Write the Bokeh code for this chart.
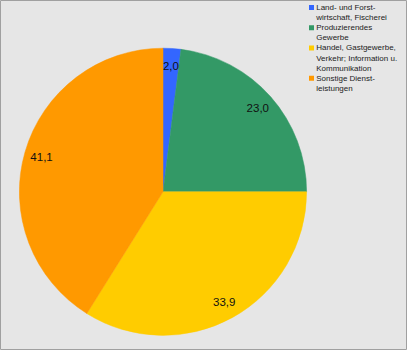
import math
from bokeh.plotting import figure
from bokeh.models import Range1d, ColumnDataSource
from bokeh.core.properties import value
from bokeh.embed import file_html
from bokeh.resources import INLINE

# ---- data ----
categories = [
    ["Land- und Forst-", "wirtschaft, Fischerei"],
    ["Produzierendes", "Gewerbe"],
    ["Handel, Gastgewerbe,", "Verkehr; Information u.", "Kommunikation"],
    ["Sonstige Dienst-", "leistungen"],
]
values = [2.0, 23.0, 33.9, 41.1]
colors = ["#3366ff", "#339966", "#ffcc00", "#ff9900"]

# ---- layout ----
W, H = 406, 349
cx, cy_px, R = 162.5, 191.3, 143.6
cy = H - cy_px
FONT = "Liberation Sans"

p = figure(width=408, height=351, output_backend="svg", toolbar_location=None,
           x_range=Range1d(0, W), y_range=Range1d(0, H),
           min_border_left=0, min_border_top=0, min_border_right=2, min_border_bottom=2)
p.axis.visible = False
p.grid.visible = False
p.background_fill_color = "#e6e6e6"
p.border_fill_color = "#ffffff"
p.outline_line_color = "#a0a0a0"
p.outline_line_width = 1

total = sum(values)
starts, ends, lx, ly, labels = [], [], [], [], []
cum = 0.0
for v in values:
    a0 = math.pi / 2 - 2 * math.pi * cum / total
    a1 = math.pi / 2 - 2 * math.pi * (cum + v) / total
    mid = (a0 + a1) / 2
    starts.append(a0)
    ends.append(a1)
    lx.append(cx + 0.88 * R * math.cos(mid))
    ly.append(cy + 0.88 * R * math.sin(mid))
    labels.append(f"{v:.1f}".replace(".", ","))
    cum += v

src = ColumnDataSource(dict(start=starts, end=ends, color=colors))
p.wedge(x=cx, y=cy, radius=R, start_angle="start", end_angle="end",
        direction="clock", fill_color="color", line_color="color", line_width=0.5,
        source=src)

p.text(x=lx, y=ly, text=labels, text_font=value(FONT), text_font_size="11.5px",
       text_color="#111111", text_align="center", text_baseline="middle")

# legend
line_h = 10.1
y0 = 7.0
sq_x, sq_size, tx = 311.0, 5.0, 315.7
sq_y, sq_c = [], []
t_x, t_y, t_txt = [], [], []
i = 0
for cat, col in zip(categories, colors):
    sq_y.append(H - (y0 + i * line_h))
    sq_c.append(col)
    for line in cat:
        t_x.append(tx)
        t_y.append(H - (y0 + i * line_h))
        t_txt.append(line)
        i += 1
p.rect(x=[sq_x] * len(sq_y), y=sq_y, width=sq_size, height=sq_size,
       fill_color=sq_c, line_color=None)
p.text(x=t_x, y=t_y, text=t_txt, text_font=value(FONT), text_font_size="8px",
       text_color="#222222", text_align="left", text_baseline="middle")

open("out.html", "w").write(file_html(p, INLINE))
